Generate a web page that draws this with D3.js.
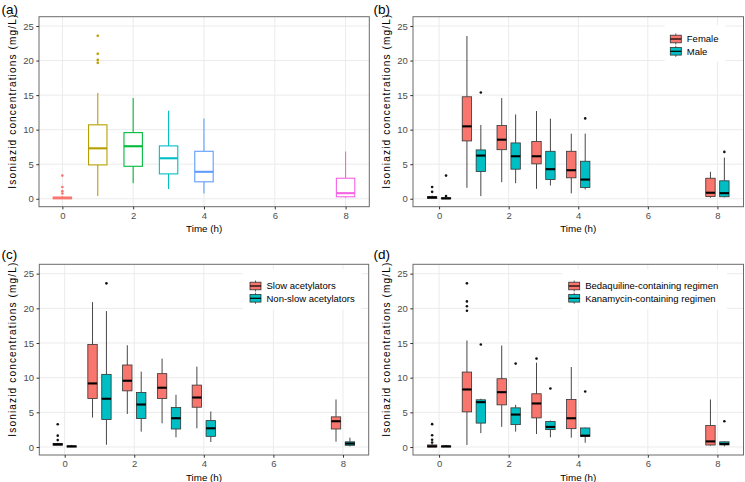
<!DOCTYPE html>
<html><head><meta charset="utf-8">
<script src="https://cdn.jsdelivr.net/npm/d3@7"></script>
<style>
html,body{margin:0;padding:0;background:#fff;}
svg text{font-family:"Liberation Sans",Arial,sans-serif;}
</style></head>
<body><svg id="chart" width="745" height="482"></svg>
<script>
// ---------- DATA ----------
const times = [0, 1, 2, 3, 4, 8];
const xTicks = [0, 2, 4, 6, 8];
const yTicks = [0, 5, 10, 15, 20, 25];
const xTitle = "Time (h)";
const yTitle = "Isoniazid concentrations (mg/L)";
const panelLabels = ["(a)", "(b)", "(c)", "(d)"];

// stats per time point: [lower whisker, Q1, median, Q3, upper whisker]
const allStats = [[0,0,0.1,0.25,0.4],[0.4,4.9,7.3,10.7,15.3],[2.25,4.7,7.6,9.57,14.6],[1.4,3.6,5.86,7.65,12.74],[0.77,2.45,3.9,6.87,11.6],[0.14,0.29,0.81,2.97,6.83]];
const allOutliers = [[3.35,1.7,1.1,0.75],[23.6,20.97,20.1,19.67],[],[],[],[]];

const sexNames = ["Female", "Male"];
const femaleStats = [[0,0.05,0.2,0.3,0.45],[1.58,8.37,10.48,14.76,23.56],[2.4,7.1,8.55,10.6,14.57],[1.44,5.05,6.15,8.3,12.7],[0.77,3.03,4.13,6.87,9.42],[0.14,0.33,0.87,2.97,3.9]];
const femaleOutliers = [[1.7,1.0],[],[],[],[],[]];
const maleStats = [[0,0,0.05,0.15,0.3],[0.38,3.94,6.25,7.07,10.68],[2.25,4.28,6.15,8.08,12.2],[1.92,2.78,4.28,6.87,11.59],[1.34,1.63,2.78,5.43,9.42],[0.2,0.29,0.81,2.6,5.96]];
const maleOutliers = [[3.35,0.4],[15.38],[],[],[11.63],[6.78]];

const acetylNames = ["Slow acetylators", "Non-slow acetylators"];
const slowStats = [[0.2,0.25,0.4,0.5,0.6],[4.25,7.0,9.17,14.78,20.9],[4.77,8.1,9.56,11.83,14.68],[3.42,7.0,8.55,10.58,12.75],[2.7,5.74,7.14,8.93,11.59],[0.77,2.6,3.72,4.35,6.86]];
const slowOutliers = [[3.28,1.64,1.0],[],[],[],[],[]];
const nonSlowStats = [[0,0,0.1,0.15,0.3],[0.33,3.96,6.96,10.48,19.6],[2.22,4.1,6.13,7.87,10.87],[1.4,2.6,4.15,5.7,7.53],[0.72,1.54,2.7,3.81,5.12],[0.1,0.25,0.5,0.75,1.35]];
const nonSlowOutliers = [[],[23.6],[],[],[],[]];

const regimenNames = ["Bedaquiline-containing regimen", "Kanamycin-containing regimen"];
const bdqStats = [[0,0,0.1,0.3,0.45],[0.29,5.07,8.3,10.81,15.36],[2.9,6.08,7.91,9.85,14.64],[1.88,4.2,6.28,7.68,12.17],[1.35,2.65,4.15,6.86,11.54],[0.2,0.29,0.81,3.09,6.86]];
const bdqOutliers = [[3.3,1.7,1.05,0.65],[23.6,21.0,20.3,19.66],[],[12.75],[],[]];
const kanaStats = [[0,0,0.1,0.15,0.3],[2.0,3.45,6.47,6.81,6.96],[2.22,3.23,4.68,5.65,6.08],[1.4,2.51,2.9,3.67,3.81],[0.62,1.54,1.64,2.75,2.8],[0.1,0.3,0.45,0.75,0.8]];
const kanaOutliers = [[],[14.78],[12.03],[8.45],[8.0],[3.72]];

// ---------- STYLE / LAYOUT ----------
const hue6 = ["#F8766D", "#B79F00", "#00BA38", "#00BFC4", "#619CFF", "#F564E3"];
const hue2 = ["#F8766D", "#00BFC4"];
const svg = d3.select("#chart");

function drawPanel(cfg) {
  const g = svg.append("g");
  const x = d3.scaleLinear().domain(cfg.xDomain).range([cfg.x0, cfg.x1]);
  const y = d3.scaleLinear().domain([-1.15, 26.35]).range([cfg.y1, cfg.y0]);

  g.append("rect").attr("x", cfg.x0).attr("y", cfg.y0).attr("width", cfg.x1 - cfg.x0).attr("height", cfg.y1 - cfg.y0).attr("fill", "#fff");
  g.selectAll(".gx").data(xTicks).join("line").attr("x1", d => x(d)).attr("x2", d => x(d)).attr("y1", cfg.y0).attr("y2", cfg.y1).attr("stroke", "#EBEBEB").attr("stroke-width", 1);
  g.selectAll(".gy").data(yTicks).join("line").attr("y1", d => y(d)).attr("y2", d => y(d)).attr("x1", cfg.x0).attr("x2", cfg.x1).attr("stroke", "#EBEBEB").attr("stroke-width", 1);

  cfg.series.forEach((s, si) => {
    const off = cfg.offsets[si];
    s.stats.forEach((st, i) => {
      const t = times[i] + off;
      const col = cfg.colorByTime ? hue6[i] : s.color;
      const hw = (x(cfg.boxW) - x(0)) / 2;
      const cx = x(t);
      const lineCol = cfg.colorByTime ? col : "#333";
      const lw = cfg.colorByTime ? 1.1 : 0.9;
      const bg = g.append("g");
      bg.append("line").attr("x1", cx).attr("x2", cx).attr("y1", y(st[3])).attr("y2", y(st[4])).attr("stroke", lineCol).attr("stroke-width", lw);
      bg.append("line").attr("x1", cx).attr("x2", cx).attr("y1", y(st[1])).attr("y2", y(st[0])).attr("stroke", lineCol).attr("stroke-width", lw);
      bg.append("rect").attr("x", cx - hw).attr("width", 2 * hw)
        .attr("y", y(st[3])).attr("height", Math.max(0.01, y(st[1]) - y(st[3])))
        .attr("fill", cfg.colorByTime ? "#fff" : col)
        .attr("stroke", lineCol).attr("stroke-width", cfg.colorByTime ? 1.1 : 0.8);
      bg.append("line").attr("x1", cx - hw).attr("x2", cx + hw).attr("y1", y(st[2])).attr("y2", y(st[2]))
        .attr("stroke", cfg.colorByTime ? col : "#000").attr("stroke-width", 2.1);
      bg.selectAll("circle").data(s.outliers[i]).join("circle")
        .attr("cx", cx).attr("cy", d => y(d)).attr("r", 1.3)
        .attr("fill", cfg.colorByTime ? col : "#111");
    });
  });

  g.append("rect").attr("x", cfg.x0).attr("y", cfg.y0).attr("width", cfg.x1 - cfg.x0).attr("height", cfg.y1 - cfg.y0)
    .attr("fill", "none").attr("stroke", "#6b6b6b").attr("stroke-width", 1);

  const xa = g.append("g").attr("transform", `translate(0,${cfg.y1})`)
    .call(d3.axisBottom(x).tickValues(xTicks).tickSize(2.7).tickPadding(2.5).tickFormat(d3.format("d")));
  const ya = g.append("g").attr("transform", `translate(${cfg.x0},0)`)
    .call(d3.axisLeft(y).tickValues(yTicks).tickSize(2.7).tickPadding(2.5).tickFormat(d3.format("d")));
  [xa, ya].forEach(a => {
    a.select(".domain").remove();
    a.selectAll(".tick line").attr("stroke", "#333");
    a.selectAll(".tick text").attr("fill", "#4D4D4D").style("font-size", "9.5px");
  });

  g.append("text").attr("x", (cfg.x0 + cfg.x1) / 2).attr("y", cfg.y1 + 25.5).attr("text-anchor", "middle")
    .style("font-size", "9.8px").attr("fill", "#000").text(xTitle);
  g.append("text").attr("transform", `translate(${cfg.x0 - 23},${(cfg.y0 + cfg.y1) / 2 - 10}) rotate(-90)`).attr("text-anchor", "middle")
    .attr("textLength", 174).attr("lengthAdjust", "spacing")
    .style("font-size", "10px").attr("fill", "#000").text(yTitle);
  g.append("text").attr("x", cfg.labX).attr("y", cfg.labY).style("font-size", "13.5px").attr("fill", "#000").text(cfg.label);

  if (cfg.legend) {
    const L = cfg.legend;
    g.append("rect").attr("x", L.x).attr("y", L.y).attr("width", L.w).attr("height", L.h).attr("fill", "#fff");
    cfg.series.forEach((s, si) => {
      const cy = L.y + L.first + si * 12.3;
      const kx = L.x + L.pad;
      g.append("line").attr("x1", kx + 5.5).attr("x2", kx + 5.5).attr("y1", cy - 5.5).attr("y2", cy + 5.5).attr("stroke", "#333").attr("stroke-width", 0.8);
      g.append("rect").attr("x", kx).attr("y", cy - 3.8).attr("width", 11).attr("height", 7.6).attr("fill", s.color).attr("stroke", "#333").attr("stroke-width", 0.8);
      g.append("line").attr("x1", kx).attr("x2", kx + 11).attr("y1", cy).attr("y2", cy).attr("stroke", "#000").attr("stroke-width", 1.2);
      g.append("text").attr("x", kx + 16.5).attr("y", cy).attr("dy", "0.35em").style("font-size", "9.5px").attr("fill", "#000").text(s.name);
    });
  }
}

drawPanel({
  label: panelLabels[0], labX: 1.5, labY: 13.8,
  x0: 39, x1: 369.3, y0: 16.7, y1: 206.7, xDomain: [-0.66, 8.67],
  colorByTime: true, boxW: 0.52, offsets: [0],
  series: [{ name: "All", stats: allStats, outliers: allOutliers, color: "#000" }]
});
drawPanel({
  label: panelLabels[1], labX: 373.5, labY: 13.8,
  x0: 413, x1: 743.5, y0: 16.7, y1: 206.7, xDomain: [-0.75, 8.75],
  boxW: 0.27, offsets: [-0.2, 0.2],
  series: [{ name: sexNames[0], stats: femaleStats, outliers: femaleOutliers, color: hue2[0] },
           { name: sexNames[1], stats: maleStats, outliers: maleOutliers, color: hue2[1] }],
  legend: { x: 664.7, y: 25, w: 60.6, h: 36.7, first: 14, pad: 5.6 }
});
drawPanel({
  label: panelLabels[2], labX: 1.5, labY: 258.5,
  x0: 39.3, x1: 368.7, y0: 264.3, y1: 455, xDomain: [-0.73, 8.74],
  boxW: 0.27, offsets: [-0.2, 0.2],
  series: [{ name: acetylNames[0], stats: slowStats, outliers: slowOutliers, color: hue2[0] },
           { name: acetylNames[1], stats: nonSlowStats, outliers: nonSlowOutliers, color: hue2[1] }],
  legend: { x: 243.3, y: 269.3, w: 118.4, h: 40, first: 16.7, pad: 6.7 }
});
drawPanel({
  label: panelLabels[3], labX: 373.5, labY: 258.5,
  x0: 413, x1: 743.5, y0: 264.3, y1: 455, xDomain: [-0.75, 8.75],
  boxW: 0.27, offsets: [-0.2, 0.2],
  series: [{ name: regimenNames[0], stats: bdqStats, outliers: bdqOutliers, color: hue2[0] },
           { name: regimenNames[1], stats: kanaStats, outliers: kanaOutliers, color: hue2[1] }],
  legend: { x: 562, y: 269.3, w: 165, h: 40, first: 16.7, pad: 6.7 }
});
</script></body></html>
